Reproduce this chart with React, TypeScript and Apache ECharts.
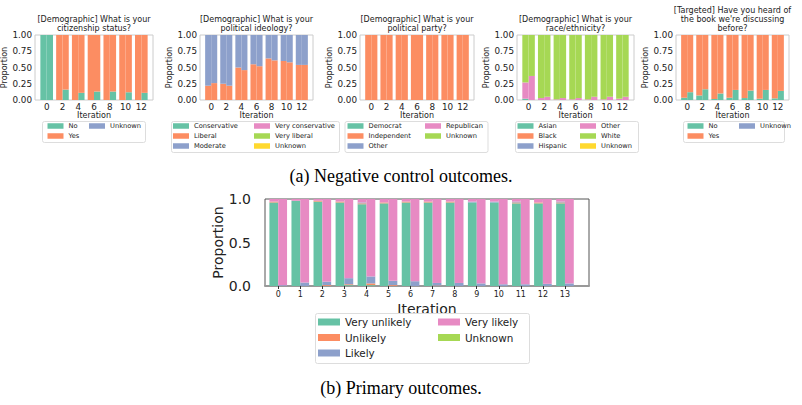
import React, { useEffect, useRef } from "react";
import * as echarts from "echarts";

// ---------- data ----------
const topIterations = [0, 2, 4, 6, 8, 10, 12];
const primaryIterations = [0, 1, 2, 3, 4, 5, 6, 7, 8, 9, 10, 11, 12, 13];
const zeros7 = [0, 0, 0, 0, 0, 0, 0];
const zeros14 = [0, 0, 0, 0, 0, 0, 0, 0, 0, 0, 0, 0, 0, 0];

// citizenship
const citizenshipLabels = ["No", "Yes", "Unknown"];
const citizenshipNoLeft = [1.0, 0.0, 0.0, 0.0, 0.0, 0.0, 0.0];
const citizenshipNoRight = [1.0, 0.16, 0.11, 0.13, 0.13, 0.12, 0.11];
const citizenshipYesLeft = [0.0, 1.0, 1.0, 1.0, 1.0, 1.0, 1.0];
const citizenshipYesRight = [0.0, 0.84, 0.89, 0.87, 0.87, 0.88, 0.89];

// ideology
const ideologyLabels = ["Conservative", "Liberal", "Moderate", "Very conservative", "Very liberal", "Unknown"];
const ideologyLiberalLeft = [0.22, 0.25, 0.5, 0.55, 0.64, 0.6, 0.54];
const ideologyLiberalRight = [0.26, 0.22, 0.46, 0.52, 0.61, 0.58, 0.54];
const ideologyModerateLeft = [0.78, 0.75, 0.5, 0.45, 0.36, 0.4, 0.46];
const ideologyModerateRight = [0.74, 0.78, 0.54, 0.48, 0.39, 0.42, 0.46];

// party
const partyLabels = ["Democrat", "Independent", "Other", "Republican", "Unknown"];
const partyIndependentLeft = [1, 1, 1, 1, 1, 1, 1];
const partyIndependentRight = [1, 1, 1, 1, 1, 1, 1];

// race
const raceLabels = ["Asian", "Black", "Hispanic", "Other", "White", "Unknown"];
const raceAsianLeft = [0.02, 0, 0, 0, 0, 0, 0];
const raceOtherLeft = [0.25, 0.03, 0.01, 0.01, 0.01, 0.01, 0.02];
const raceOtherRight = [0.37, 0.05, 0.03, 0.03, 0.05, 0.05, 0.05];
const raceWhiteLeft = [0.73, 0.97, 0.99, 0.99, 0.99, 0.99, 0.98];
const raceWhiteRight = [0.63, 0.95, 0.97, 0.97, 0.95, 0.95, 0.95];

// targeted
const bookLabels = ["No", "Yes", "Unknown"];
const bookNoLeft = [0.035, 0.07, 0.015, 0.035, 0.03, 0.02, 0.025];
const bookNoRight = [0.12, 0.165, 0.1, 0.155, 0.145, 0.155, 0.14];
const bookYesLeft = [0.965, 0.93, 0.985, 0.965, 0.97, 0.98, 0.975];
const bookYesRight = [0.88, 0.835, 0.9, 0.845, 0.855, 0.845, 0.86];

// primary
const primaryLabels = ["Very unlikely", "Unlikely", "Likely", "Very likely", "Unknown"];
const veryUnlikelyLeft = [0.96, 0.98, 0.97, 0.96, 0.94, 0.95, 0.96, 0.96, 0.96, 0.96, 0.96, 0.95, 0.95, 0.95];
const unlikelyLeft = [0.01, 0, 0.01, 0.01, 0.01, 0.01, 0.01, 0.01, 0.01, 0, 0, 0.01, 0.01, 0.01];
const likelyLeft = [0, 0, 0, 0, 0.01, 0, 0, 0, 0, 0.01, 0.01, 0.01, 0, 0.01];
const veryLikelyLeft = [0.03, 0.02, 0.02, 0.03, 0.04, 0.04, 0.03, 0.03, 0.03, 0.03, 0.03, 0.03, 0.04, 0.03];
const veryUnlikelyRight = [0, 0, 0, 0.01, 0.01, 0, 0, 0, 0, 0, 0, 0, 0, 0];
const unlikelyRight = [0, 0, 0.01, 0.01, 0.02, 0.01, 0, 0.005, 0, 0, 0, 0, 0, 0];
const likelyRight = [0.01, 0.04, 0.04, 0.07, 0.08, 0.05, 0.055, 0.03, 0.035, 0.03, 0.02, 0.02, 0.025, 0.03];
const veryLikelyRight = [0.99, 0.96, 0.95, 0.91, 0.89, 0.94, 0.945, 0.965, 0.965, 0.97, 0.98, 0.98, 0.975, 0.97];

// ---------- styling ----------
const SET2 = ["#66c2a5", "#fc8d62", "#8da0cb", "#e78ac3", "#a6d854", "#ffd92f"];
const FONT = "DejaVu Sans";
const SERIF = "Liberation Serif";
const TXT = "#222";

type Item = [string, number[], number[]];

function makeSeries(key: string, gi: number, xs: number[], items: Item[], barWidth: number) {
  const out: any[] = [];
  items.forEach(([label, left, right], ci) => {
    ([["L", left], ["R", right]] as [string, number[]][]).forEach(([side, vals]) => {
      out.push({
        type: "bar",
        name: `${key}|${label}`,
        stack: `${key}-${side}`,
        xAxisIndex: gi,
        yAxisIndex: gi,
        barWidth,
        barGap: "0%",
        silent: true,
        itemStyle: { color: SET2[ci] },
        emphasis: { disabled: true },
        // value first so that the proportion dimension is the stacked one
        encode: { x: 1, y: 0 },
        data: xs.map((x, i) => [vals[i], x]),
      });
    });
  });
  return out;
}

const topGrids = [
  { left: 35, width: 118 },
  { left: 200, width: 113 },
  { left: 360, width: 114 },
  { left: 517, width: 117 },
  { left: 676, width: 113 },
];
const TOP_Y = 35;
const TOP_H = 65;
const TOP_MIN = -1.48;
const TOP_MAX = 13.48;
const BOT = { left: 265, top: 199, width: 324, height: 87 };
const BOT_MIN = -0.6;
const BOT_MAX = 14.09;

const topTitles = [
  "[Demographic] What is your\ncitizenship status?",
  "[Demographic] What is your\npolitical ideology?",
  "[Demographic] What is your\npolitical party?",
  "[Demographic] What is your\nrace/ethnicity?",
  "[Targeted] Have you heard of\nthe book we're discussing\nbefore?",
];

function legendComp(key: string, labels: string[], left: number, top: number, big: boolean) {
  return {
    data: labels.map((l) => `${key}|${l}`),
    left,
    top,
    orient: "vertical",
    icon: "rect",
    itemWidth: big ? 22 : 16,
    itemHeight: big ? 7 : 5.5,
    itemGap: big ? 3.5 : 1,
    padding: 0,
    selectedMode: false,
    formatter: (n: string) => n.split("|")[1],
    textStyle: { fontSize: big ? 10.4 : 6.7, fontFamily: FONT, color: TXT, lineHeight: big ? 12 : 9 },
  };
}

function buildOption() {
  const grids: any[] = [];
  const xAxes: any[] = [];
  const yAxes: any[] = [];
  topGrids.forEach((g) => {
    grids.push({
      left: g.left, top: TOP_Y, width: g.width, height: TOP_H,
      show: true, borderColor: "#cccccc", borderWidth: 1,
      containLabel: false, outerBoundsMode: "none",
    });
  });
  grids.push({
    left: BOT.left, top: BOT.top, width: BOT.width, height: BOT.height,
    show: true, borderColor: "#555555", borderWidth: 1,
    containLabel: false, outerBoundsMode: "none",
  });

  topGrids.forEach((_, gi) => {
    xAxes.push({
      type: "value", gridIndex: gi, min: TOP_MIN, max: TOP_MAX,
      axisLine: { show: false }, axisTick: { show: false }, splitLine: { show: false },
      axisLabel: { customValues: topIterations, fontSize: 8.8, margin: 2, color: TXT, fontFamily: FONT },
      name: "Iteration", nameLocation: "middle", nameGap: 9.5,
      nameTextStyle: { fontSize: 8, fontFamily: FONT, color: TXT },
    });
    yAxes.push({
      type: "value", gridIndex: gi, min: 0, max: 1, interval: 0.25,
      axisLine: { show: false }, axisTick: { show: false }, splitLine: { show: false },
      axisLabel: { formatter: (v: number) => v.toFixed(2), fontSize: 8.8, margin: 3, color: TXT, fontFamily: FONT },
      name: "Proportion", nameLocation: "middle", nameGap: 22,
      nameTextStyle: { fontSize: 8, fontFamily: FONT, color: TXT },
    });
  });
  xAxes.push({
    type: "value", gridIndex: 5, min: BOT_MIN, max: BOT_MAX,
    axisLine: { show: true, lineStyle: { color: "#999999", width: 2 } },
    axisTick: { show: true, customValues: primaryIterations, length: 3, lineStyle: { color: "#333333" } },
    splitLine: { show: false },
    axisLabel: { customValues: primaryIterations, fontSize: 8, margin: 4, color: TXT, fontFamily: FONT },
    name: "Iteration", nameLocation: "middle", nameGap: 16,
    nameTextStyle: { fontSize: 14, fontFamily: FONT, color: TXT },
  });
  yAxes.push({
    type: "value", gridIndex: 5, min: 0, max: 1, interval: 0.5,
    axisLine: { show: false }, axisTick: { show: false }, splitLine: { show: false },
    axisLabel: { formatter: (v: number) => v.toFixed(1), fontSize: 14, margin: 14, color: TXT, fontFamily: FONT },
    name: "Proportion", nameLocation: "middle", nameGap: 40,
    nameTextStyle: { fontSize: 14, fontFamily: FONT, color: TXT },
  });

  const topBW = (gi: number) => (0.8 * topGrids[gi].width) / (TOP_MAX - TOP_MIN);
  const botBW = (0.4 * BOT.width) / (BOT_MAX - BOT_MIN);

  const series = [
    ...makeSeries("cit", 0, topIterations, [
      ["No", citizenshipNoLeft, citizenshipNoRight],
      ["Yes", citizenshipYesLeft, citizenshipYesRight],
      ["Unknown", zeros7, zeros7],
    ], topBW(0)),
    ...makeSeries("ide", 1, topIterations, [
      ["Conservative", zeros7, zeros7],
      ["Liberal", ideologyLiberalLeft, ideologyLiberalRight],
      ["Moderate", ideologyModerateLeft, ideologyModerateRight],
      ["Very conservative", zeros7, zeros7],
      ["Very liberal", zeros7, zeros7],
      ["Unknown", zeros7, zeros7],
    ], topBW(1)),
    ...makeSeries("par", 2, topIterations, [
      ["Democrat", zeros7, zeros7],
      ["Independent", partyIndependentLeft, partyIndependentRight],
      ["Other", zeros7, zeros7],
      ["Republican", zeros7, zeros7],
      ["Unknown", zeros7, zeros7],
    ], topBW(2)),
    ...makeSeries("rac", 3, topIterations, [
      ["Asian", raceAsianLeft, zeros7],
      ["Black", zeros7, zeros7],
      ["Hispanic", zeros7, zeros7],
      ["Other", raceOtherLeft, raceOtherRight],
      ["White", raceWhiteLeft, raceWhiteRight],
      ["Unknown", zeros7, zeros7],
    ], topBW(3)),
    ...makeSeries("bok", 4, topIterations, [
      ["No", bookNoLeft, bookNoRight],
      ["Yes", bookYesLeft, bookYesRight],
      ["Unknown", zeros7, zeros7],
    ], topBW(4)),
    ...makeSeries("pri", 5, primaryIterations, [
      ["Very unlikely", veryUnlikelyLeft, veryUnlikelyRight],
      ["Unlikely", unlikelyLeft, unlikelyRight],
      ["Likely", likelyLeft, likelyRight],
      ["Very likely", veryLikelyLeft, veryLikelyRight],
      ["Unknown", zeros14, zeros14],
    ], botBW),
  ];

  const LT = 121.5;
  const legends = [
    legendComp("cit", citizenshipLabels.slice(0, 2), 47.5, LT, false),
    legendComp("cit", citizenshipLabels.slice(2), 89, LT, false),
    legendComp("ide", ideologyLabels.slice(0, 3), 173, LT, false),
    legendComp("ide", ideologyLabels.slice(3), 254, LT, false),
    legendComp("par", partyLabels.slice(0, 3), 347.5, LT, false),
    legendComp("par", partyLabels.slice(3), 425, LT, false),
    legendComp("rac", raceLabels.slice(0, 3), 517.5, LT, false),
    legendComp("rac", raceLabels.slice(3), 580, LT, false),
    legendComp("bok", bookLabels.slice(0, 2), 687.5, LT, false),
    legendComp("bok", bookLabels.slice(2), 739, LT, false),
    legendComp("pri", primaryLabels.slice(0, 3), 318, 316, true),
    legendComp("pri", primaryLabels.slice(3), 438, 316, true),
  ];

  const boxes = [
    [42, 121, 103, 21],
    [171, 121, 168, 31],
    [344.5, 121, 143, 31],
    [515, 121, 123, 31],
    [683, 121, 101, 21],
    [315, 313, 214, 50],
  ];

  const graphic: any[] = [];
  boxes.forEach(([x, y, w, h]) => {
    graphic.push({
      type: "rect", z: 3, silent: true,
      shape: { x: x + 0.5, y: y + 0.5, width: w, height: h, r: 2 },
      style: { fill: "rgba(255,255,255,0.8)", stroke: "#dddddd", lineWidth: 1 },
    });
  });
  topTitles.forEach((t, i) => {
    const g = topGrids[i];
    const lines = t.split("\n").length;
    graphic.push({
      type: "text", z: 5, silent: true,
      x: g.left + g.width / 2, y: lines === 3 ? 6 : 14.5,
      style: {
        text: t, fontSize: 8, fontFamily: FONT, fill: TXT, lineHeight: 9,
        align: "center", verticalAlign: "top", textAlign: "center", textVerticalAlign: "top",
      },
    });
  });
  graphic.push({
    type: "text", z: 5, silent: true, x: 401, y: 176,
    style: {
      text: "(a) Negative control outcomes.", fontSize: 18, fontFamily: SERIF, fill: "#000",
      align: "center", verticalAlign: "middle", textAlign: "center", textVerticalAlign: "middle",
    },
  });
  graphic.push({
    type: "text", z: 5, silent: true, x: 401, y: 388,
    style: {
      text: "(b) Primary outcomes.", fontSize: 18, fontFamily: SERIF, fill: "#000",
      align: "center", verticalAlign: "middle", textAlign: "center", textVerticalAlign: "middle",
    },
  });

  return {
    animation: false,
    backgroundColor: "#ffffff",
    grid: grids,
    xAxis: xAxes,
    yAxis: yAxes,
    legend: legends,
    series,
    graphic,
  };
}

export default function App() {
  const ref = useRef<HTMLDivElement>(null);
  useEffect(() => {
    if (!ref.current) return;
    const chart = echarts.init(ref.current, null, { renderer: "svg" });
    chart.setOption(buildOption() as any);
    return () => chart.dispose();
  }, []);
  return (
    <div
      ref={ref}
      style={{ position: "fixed", left: 0, top: 0, width: 802, height: 405, background: "#fff" }}
    />
  );
}
